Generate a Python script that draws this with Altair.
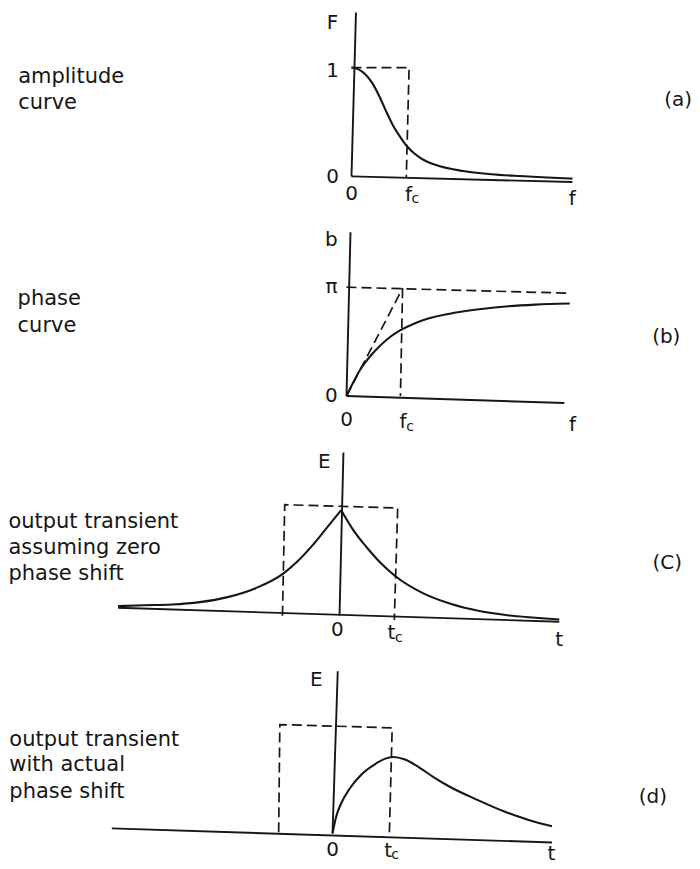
import altair as alt
import pandas as pd

INK = "#161616"
FONT = "DejaVu Sans"
PAGE_L, PAGE_R = 8, 692  # chart spans page x 8..692

# ---------------- (a) amplitude curve ----------------
a_f = [0.0, 0.125, 0.25, 0.375, 0.5, 0.625, 0.75, 0.875, 1.0, 1.125, 1.25, 1.5, 2.0, 2.5, 3.0, 3.5, 3.95]
a_F = [1.0, 0.983, 0.937, 0.855, 0.734, 0.592, 0.46, 0.359, 0.272, 0.21, 0.164, 0.106, 0.049, 0.02, 0.003, -0.01, -0.021]
a_vaxis = ([0.0, 0.08], [0.0, 1.505])
a_haxis = ([0.0, 3.95], [0.0, -0.052])
a_ideal = ([0.0, 1.03, 0.98], [1.0, 1.0, -0.01])
a_side = ["amplitude", "curve"]
a_tag = "(a)"

# ---------------- (b) phase curve ----------------
b_f = [0.0, 0.25, 0.5, 0.75, 1.0, 1.25, 1.5, 2.0, 2.5, 3.0, 3.5, 4.14]
b_b = [0.0, 0.24, 0.40, 0.52, 0.605, 0.665, 0.71, 0.765, 0.80, 0.825, 0.84, 0.85]
b_vaxis = ([0.0, 0.074], [0.0, 1.505])
b_haxis = ([0.0, 4.04], [0.0, -0.064])
b_pi = ([0.0, 4.13], [1.0, 0.945])
b_fc = ([1.04, 1.0], [0.99, 0.0])
b_diag = ([0.0, 1.04], [0.0, 0.99])
b_side = ["phase", "curve"]
b_tag = "(b)"

# ---------------- (c) zero phase shift transient ----------------
c_left_t = [-3.96, -3.5, -3.0, -2.5, -2.0, -1.5, -1.0, -0.75, -0.5, -0.25, 0.03]
c_left_E = [0.088, 0.096, 0.103, 0.125, 0.171, 0.253, 0.39, 0.50, 0.637, 0.793, 0.97]
c_right_t = [0.03, 0.25, 0.5, 0.75, 1.0, 1.5, 2.0, 2.5, 3.0, 3.5, 3.93]
c_right_E = [0.97, 0.785, 0.62, 0.477, 0.363, 0.205, 0.107, 0.043, 0.005, -0.018, -0.035]
c_vaxis = ([0.0, 0.07], [0.0, 1.50])
c_haxis = ([-3.96, 3.93], [0.073, -0.055])
c_rect = ([-1.02, -0.98, 1.04, 0.98], [0.0, 1.02, 0.99, -0.04])
c_side = ["output transient", "assuming zero", "phase shift"]
c_tag = "(C)"

# ---------------- (d) actual phase shift transient ----------------
d_t = [0.0, 0.06, 0.15, 0.3, 0.5, 0.75, 0.9, 1.05, 1.25, 1.5, 1.75, 2.0, 2.5, 3.0, 3.4, 3.79]
d_E = [0.0, 0.149, 0.277, 0.415, 0.542, 0.642, 0.685, 0.702, 0.679, 0.605, 0.515, 0.436, 0.308, 0.194, 0.122, 0.066]
d_vaxis = ([0.0, 0.09], [0.0, 1.49])
d_haxis = ([-3.81, 3.79], [0.046, -0.083])
d_rect = ([-0.93, -0.91, 1.03, 0.98], [0.01, 1.0, 0.97, -0.03])
d_side = ["output transient", "with actual", "phase shift"]
d_tag = "(d)"


def seg_df(parts):
    rows = []
    for gi, (xs, ys) in enumerate(parts):
        for oi, (x, y) in enumerate(zip(xs, ys)):
            rows.append({"x": x, "y": y, "g": gi, "o": oi})
    return pd.DataFrame(rows)


def panel(origin, ux, uy, top_py, bot_py, solid, dashed, curves, center_labels, left_labels):
    ox, oy = origin
    xs = alt.Scale(domain=[(PAGE_L - ox) / ux, (PAGE_R - ox) / ux], nice=False, zero=False)
    ys = alt.Scale(domain=[(oy - bot_py) / uy, (oy - top_py) / uy], nice=False, zero=False)
    X = alt.X("x:Q", scale=xs, axis=None)
    Y = alt.Y("y:Q", scale=ys, axis=None)
    layers = [
        alt.Chart(seg_df(solid)).mark_line(color=INK, strokeWidth=1.9).encode(
            x=X, y=Y, detail="g:N", order="o:Q"),
        alt.Chart(seg_df(dashed)).mark_line(color=INK, strokeWidth=1.7, strokeDash=[10, 5]).encode(
            x=X, y=Y, detail="g:N", order="o:Q"),
        alt.Chart(seg_df(curves)).mark_line(color=INK, strokeWidth=2.1, interpolate="monotone").encode(
            x=X, y=Y, detail="g:N", order="o:Q"),
        alt.Chart(pd.DataFrame(center_labels, columns=["text", "x", "y", "size"])).mark_text(
            color=INK, font=FONT, align="center", baseline="middle").encode(
            x=X, y=Y, text="text:N", size=alt.Size("size:Q", scale=None, legend=None)),
        alt.Chart(pd.DataFrame(left_labels, columns=["text", "x", "y", "size"])).mark_text(
            color=INK, font=FONT, align="left", baseline="middle").encode(
            x=X, y=Y, text="text:N", size=alt.Size("size:Q", scale=None, legend=None)),
    ]
    return alt.layer(*layers).properties(width=PAGE_R - PAGE_L, height=bot_py - top_py)


AX = 20   # axis letter size
SUB = 14  # subscript size
SIDE = 21
TAG = 20

pa = panel(
    (352, 176), 56, 109, 8, 215,
    solid=[a_vaxis, a_haxis], dashed=[a_ideal], curves=[(a_f, a_F)],
    center_labels=[
        ("F", -0.34, 1.41, AX), ("1", -0.34, 0.97, AX), ("0", -0.34, -0.01, AX),
        ("0", 0.0, -0.16, AX), ("f", 1.02, -0.17, AX), ("c", 1.14, -0.21, SUB),
        ("f", 3.95, -0.21, AX), (a_tag, 5.84, 0.70, TAG),
    ],
    left_labels=[(a_side[0], -5.96, 0.91, SIDE), (a_side[1], -5.96, 0.67, SIDE)],
)

pb = panel(
    (347, 396), 54, 109, 215, 440,
    solid=[b_vaxis, b_haxis], dashed=[b_pi, b_fc, b_diag], curves=[(b_f, b_b)],
    center_labels=[
        ("b", -0.28, 1.43, AX), ("π", -0.28, 1.0, AX), ("0", -0.28, 0.0, AX),
        ("0", 0.0, -0.22, AX), ("f", 1.05, -0.24, AX), ("c", 1.18, -0.28, SUB),
        ("f", 4.19, -0.27, AX), (b_tag, 5.93, 0.54, TAG),
    ],
    left_labels=[(b_side[0], -6.1, 0.89, SIDE), (b_side[1], -6.1, 0.64, SIDE)],
)

pc = panel(
    (340, 616), 56, 109, 440, 658,
    solid=[c_vaxis, c_haxis], dashed=[c_rect],
    curves=[(c_left_t, c_left_E), (c_right_t, c_right_E)],
    center_labels=[
        ("E", -0.27, 1.41, AX), ("0", -0.04, -0.13, AX),
        ("t", 0.93, -0.16, AX), ("c", 1.06, -0.2, SUB),
        ("t", 3.93, -0.22, AX), (c_tag, 5.86, 0.48, TAG),
    ],
    left_labels=[(s, -5.92, yy, SIDE) for s, yy in zip(c_side, [0.86, 0.62, 0.38])],
)

pd_ = panel(
    (333, 834), 58, 109, 658, 861,
    solid=[d_vaxis, d_haxis], dashed=[d_rect], curves=[(d_t, d_E)],
    center_labels=[
        ("E", -0.28, 1.41, AX), ("0", 0.0, -0.15, AX),
        ("t", 0.96, -0.16, AX), ("c", 1.08, -0.2, SUB),
        ("t", 3.78, -0.19, AX), (d_tag, 5.53, 0.33, TAG),
    ],
    left_labels=[(s, -5.58, yy, SIDE) for s, yy in zip(d_side, [0.86, 0.63, 0.385])],
)

chart = (
    alt.vconcat(pa, pb, pc, pd_, spacing=0)
    .properties(padding=0, background="white")
    .configure_view(stroke=None)
)

chart.save("out.html", embed_options={"renderer": "svg", "actions": False})
